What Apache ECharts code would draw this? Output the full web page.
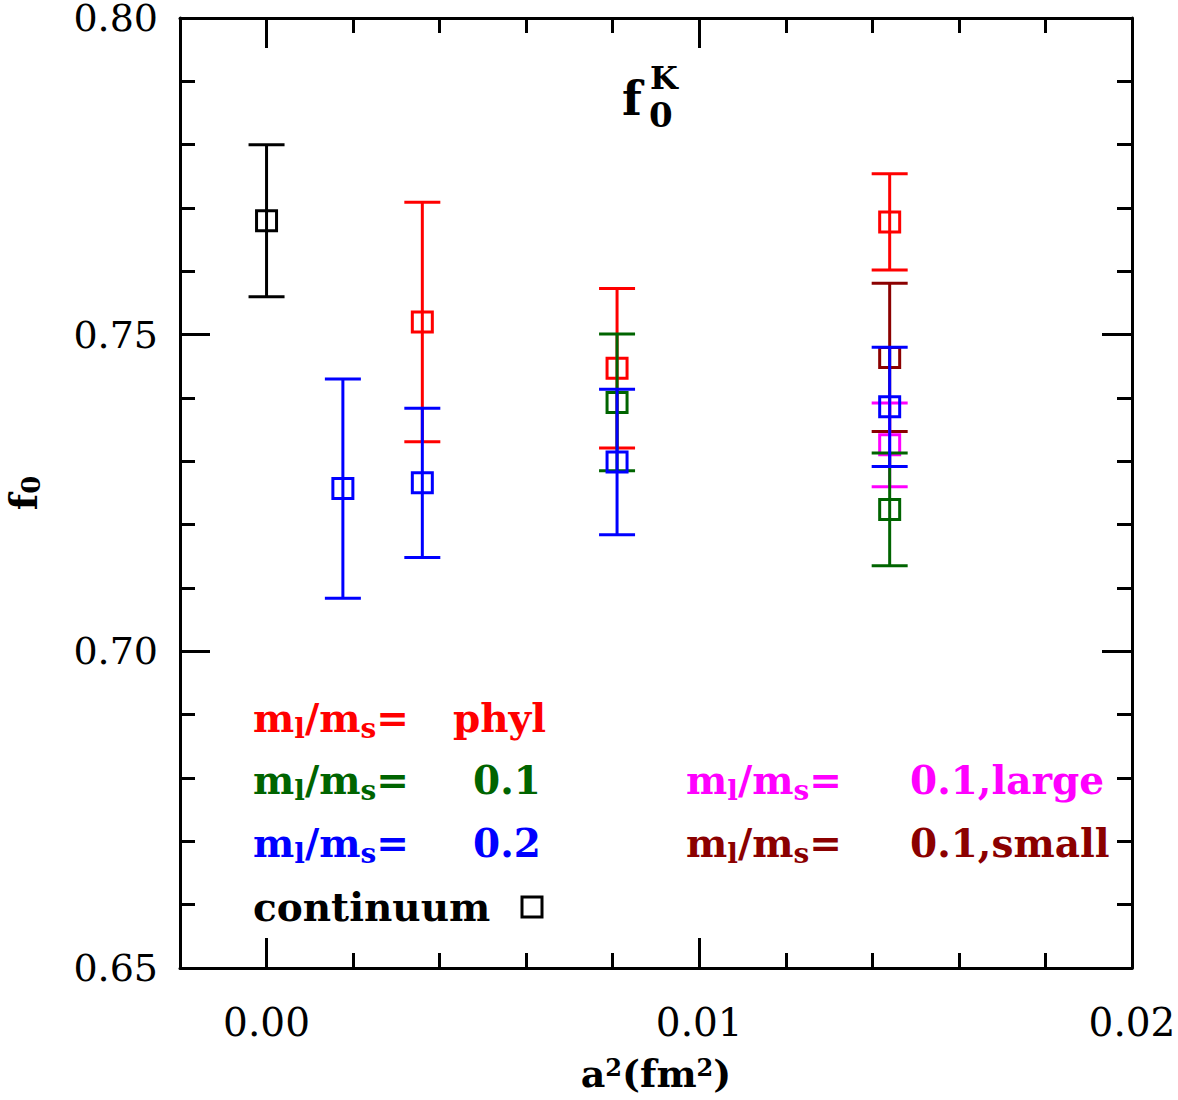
<!DOCTYPE html>
<html>
<head>
<meta charset="utf-8">
<script src="https://cdn.jsdelivr.net/npm/echarts@6/dist/echarts.min.js"></script>
<style>html,body{margin:0;padding:0;background:#fff;}#c{width:1178px;height:1100px;}</style>
</head>
<body>
<div id="c"></div>
<script>
// ---- data (a^2 in fm^2, f0 value, error) ----
const contX = [0.0];
const contY = [0.768];
const contE = [0.012];

const phyX = [0.0036, 0.0081, 0.0144];
const phyY = [0.7520, 0.7447, 0.7678];
const phyE = [0.0189, 0.0126, 0.0076];

const r01X = [0.0081, 0.0144];
const r01Y = [0.7393, 0.7224];
const r01E = [0.0108, 0.0089];

const r02X = [0.001764, 0.0036, 0.0081, 0.0144];
const r02Y = [0.7257, 0.7266, 0.7299, 0.7386];
const r02E = [0.0173, 0.0118, 0.0115, 0.0094];

const largeX = [0.0144];
const largeY = [0.7326];
const largeE = [0.0066];

const smallX = [0.0144];
const smallY = [0.7464];
const smallE = [0.0117];

const xMajorTicks = [0.00, 0.01, 0.02];

const FONT = 'DejaVu Serif';

function rows(xs, ys, es) { return xs.map((x, i) => [x, ys[i], es[i]]); }

function makeSeries(name, color, xs, ys, es, z) {
  return {
    type: 'custom', name: name, z: z,
    data: rows(xs, ys, es),
    renderItem: function (params, api) {
      const x = api.value(0), y = api.value(1), e = api.value(2);
      const c = api.coord([x, y]);
      const t = api.coord([x, y + e]);
      const b = api.coord([x, y - e]);
      const hw = 18, s = 10;
      const st = { stroke: color, lineWidth: 3, fill: 'none' };
      return {
        type: 'group',
        children: [
          { type: 'line', shape: { x1: c[0], y1: t[1], x2: c[0], y2: b[1] }, style: st },
          { type: 'line', shape: { x1: c[0] - hw, y1: t[1], x2: c[0] + hw, y2: t[1] }, style: st },
          { type: 'line', shape: { x1: c[0] - hw, y1: b[1], x2: c[0] + hw, y2: b[1] }, style: st },
          { type: 'rect', shape: { x: c[0] - s, y: c[1] - s, width: 2 * s, height: 2 * s }, style: st }
        ]
      };
    }
  };
}

const lineStyle = { color: '#000', width: 3 };
const baseX = { type: 'value', min: -0.002, max: 0.02, splitLine: { show: false } };

const chart = echarts.init(document.getElementById('c'), null, { renderer: 'svg' });

const rich = {
  sub: { fontFamily: FONT, fontWeight: 'bold', fontSize: 26, padding: [16, 0, 0, 0] },
  sup: { fontFamily: FONT, fontWeight: 'bold', fontSize: 24, padding: [0, 0, 12, 0] }
};

function legendText(x, y, str, color) {
  return {
    type: 'text', x: x, y: y,
    style: {
      text: str, fill: color, fontFamily: FONT, fontWeight: 'bold', fontSize: 39,
      verticalAlign: 'middle', align: 'left',
      rich: {
        sub: { fontFamily: FONT, fontWeight: 'bold', fontSize: 28, fill: color, padding: [20, 0, 0, 0] }
      }
    }
  };
}

chart.setOption({
  animation: false,
  backgroundColor: '#fff',
  grid: { left: 180, top: 18, width: 952, height: 950, containLabel: false, outerBoundsMode: 'none' },
  xAxis: [
    Object.assign({}, baseX, {
      position: 'bottom', interval: 0.002,
      axisLine: { show: true, onZero: false, lineStyle: lineStyle },
      axisTick: { show: true, inside: true, length: 15, lineStyle: { color: '#000', width: 3 } },
      axisLabel: {
        show: true, customValues: xMajorTicks, margin: 37, color: '#000',
        fontFamily: FONT, fontSize: 39, lineHeight: 34,
        formatter: v => Number(v).toFixed(2)
      },
      name: 'a{sup|2}(fm{sup|2})', nameLocation: 'middle', nameGap: 86,
      nameTextStyle: { color: '#000', fontFamily: FONT, fontWeight: 'bold', fontSize: 38, lineHeight: 38, rich: rich }
    }),
    Object.assign({}, baseX, {
      position: 'bottom',
      axisLine: { show: false, onZero: false },
      axisTick: { show: true, inside: true, length: 30, customValues: xMajorTicks, lineStyle: { color: '#000', width: 3 } },
      axisLabel: { show: false }
    }),
    Object.assign({}, baseX, {
      position: 'top', interval: 0.002,
      axisLine: { show: true, onZero: false, lineStyle: lineStyle },
      axisTick: { show: true, inside: true, length: 15, lineStyle: { color: '#000', width: 3 } },
      axisLabel: { show: false }
    }),
    Object.assign({}, baseX, {
      position: 'top',
      axisLine: { show: false, onZero: false },
      axisTick: { show: true, inside: true, length: 30, customValues: xMajorTicks, lineStyle: { color: '#000', width: 3 } },
      axisLabel: { show: false }
    })
  ],
  yAxis: [
    {
      type: 'value', min: 0.65, max: 0.80, interval: 0.05, position: 'left',
      splitLine: { show: false },
      axisLine: { show: true, onZero: false, lineStyle: lineStyle },
      axisTick: { show: true, inside: true, length: 30, lineStyle: { color: '#000', width: 3 } },
      minorTick: { show: true, splitNumber: 5, length: 15, lineStyle: { color: '#000', width: 3 } },
      axisLabel: {
        show: true, margin: 22, color: '#000', fontFamily: FONT, fontSize: 38, lineHeight: 30,
        formatter: v => Number(v).toFixed(2)
      },
      name: 'f{sub|0}', nameLocation: 'middle', nameGap: 136, nameRotate: 90,
      nameTextStyle: { color: '#000', fontFamily: FONT, fontWeight: 'bold', fontSize: 38, rich: rich }
    },
    {
      type: 'value', min: 0.65, max: 0.80, interval: 0.05, position: 'right',
      splitLine: { show: false },
      axisLine: { show: true, onZero: false, lineStyle: lineStyle },
      axisTick: { show: true, inside: true, length: 30, lineStyle: { color: '#000', width: 3 } },
      minorTick: { show: true, splitNumber: 5, length: 15, lineStyle: { color: '#000', width: 3 } },
      axisLabel: { show: false }
    }
  ],
  series: [
    makeSeries('continuum', '#000000', contX, contY, contE, 2),
    makeSeries('phys', '#ff0000', phyX, phyY, phyE, 3),
    makeSeries('0.1,small', '#8b0000', smallX, smallY, smallE, 4),
    makeSeries('0.1,large', '#ff00ff', largeX, largeY, largeE, 5),
    makeSeries('0.1', '#006400', r01X, r01Y, r01E, 6),
    makeSeries('0.2', '#0000ff', r02X, r02Y, r02E, 7)
  ],
  graphic: [
    { type: 'text', x: 622, y: 122, style: { text: 'f', fill: '#000', fontFamily: FONT, fontWeight: 'bold', fontSize: 46, verticalAlign: 'bottom' } },
    { type: 'text', x: 650, y: 62, style: { text: 'K', fill: '#000', fontFamily: FONT, fontWeight: 'bold', fontSize: 32, verticalAlign: 'top' } },
    { type: 'text', x: 649, y: 98, style: { text: '0', fill: '#000', fontFamily: FONT, fontWeight: 'bold', fontSize: 34, verticalAlign: 'top' } },

    legendText(253, 718, 'm{sub|l}/m{sub|s}=', '#ff0000'),
    legendText(453, 718, 'phyl', '#ff0000'),
    legendText(253, 780, 'm{sub|l}/m{sub|s}=', '#006400'),
    legendText(473, 780, '0.1', '#006400'),
    legendText(253, 843, 'm{sub|l}/m{sub|s}=', '#0000ff'),
    legendText(473, 843, '0.2', '#0000ff'),
    legendText(253, 907, 'continuum', '#000000'),
    { type: 'rect', shape: { x: 522, y: 897, width: 20, height: 20 }, style: { fill: 'none', stroke: '#000', lineWidth: 3 } },

    legendText(686, 780, 'm{sub|l}/m{sub|s}=', '#ff00ff'),
    legendText(910, 780, '0.1,large', '#ff00ff'),
    legendText(686, 843, 'm{sub|l}/m{sub|s}=', '#8b0000'),
    legendText(910, 843, '0.1,small', '#8b0000')
  ]
});
</script>
</body>
</html>
